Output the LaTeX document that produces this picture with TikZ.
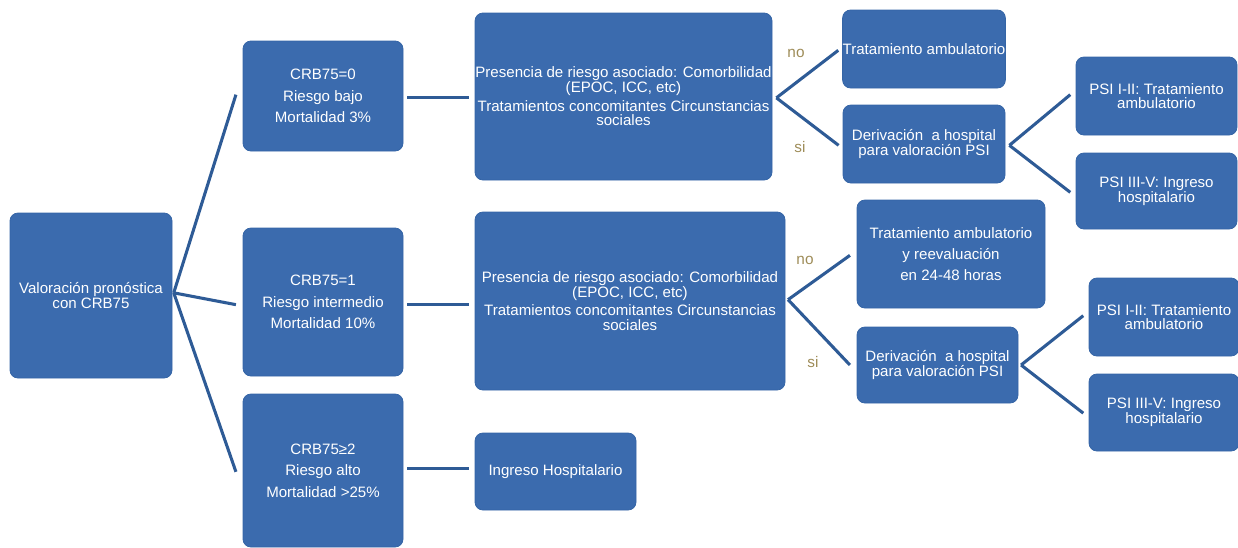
\documentclass[tikz,border=0pt]{standalone}
\usepackage{fontspec}
\setmainfont{Liberation Sans}
\definecolor{boxblue}{HTML}{3B6BAE}
\definecolor{boxedge}{HTML}{3565A6}
\definecolor{linkblue}{HTML}{2E5B96}
\definecolor{olive}{HTML}{9E8C58}
\begin{document}
\begin{tikzpicture}[x=0.75pt,y=-0.75pt,
  flowbox/.style={draw=boxedge,line width=0.6pt,fill=boxblue,rounded corners=6pt,
    text=white,align=center,inner sep=0pt,font=\fontsize{11.3}{11}\selectfont},
  widelines/.style={font=\fontsize{11.3}{16}\selectfont},
  link/.style={draw=linkblue,line width=2.3pt},
  answer/.style={text=olive,font=\fontsize{11.5}{12}\selectfont,inner sep=0pt}]
\useasboundingbox (0,0) rectangle (1238,547);
% nodes
\node[flowbox,minimum width=162*0.75pt,minimum height=165*0.75pt] (A) at (91,295.5)
  {Valoración pronóstica\\con CRB75};
\node[flowbox,widelines,minimum width=160*0.75pt,minimum height=110*0.75pt] (B1) at (323,96)
  {CRB75=0\\Riesgo bajo\\Mortalidad 3\%};
\node[flowbox,widelines,minimum width=160*0.75pt,minimum height=148*0.75pt] (B2) at (323,302)
  {CRB75=1\\Riesgo intermedio\\Mortalidad 10\%};
\node[flowbox,widelines,minimum width=160*0.75pt,minimum height=153*0.75pt] (B3) at (323,470.5)
  {CRB75≥2\\Riesgo alto\\Mortalidad >25\%};
\node[flowbox,minimum width=297*0.75pt,minimum height=167*0.75pt] (C1) at (623.5,96.5)
  {Presencia de riesgo asociado: Comorbilidad\\(EPOC, ICC, etc)\\[3pt]Tratamientos concomitantes Circunstancias\\sociales};
\node[flowbox,minimum width=310*0.75pt,minimum height=178*0.75pt] (C2) at (630,301)
  {Presencia de riesgo asociado: Comorbilidad\\(EPOC, ICC, etc)\\[3pt]Tratamientos concomitantes Circunstancias\\sociales};
\node[flowbox,minimum width=161*0.75pt,minimum height=77*0.75pt] (C3) at (555.5,471.5)
  {Ingreso Hospitalario};
\node[flowbox,minimum width=162*0.75pt,minimum height=78*0.75pt] (D1) at (924,49)
  {Tratamiento ambulatorio};
\node[flowbox,minimum width=162*0.75pt,minimum height=78*0.75pt] (D2) at (924,144)
  {Derivación \ a hospital\\para valoración PSI};
\node[flowbox,minimum width=161*0.75pt,minimum height=78*0.75pt] (E1) at (1156.5,96)
  {PSI I-II: Tratamiento\\ambulatorio};
\node[flowbox,minimum width=161*0.75pt,minimum height=76*0.75pt] (E2) at (1156.5,191)
  {PSI III-V: Ingreso\\hospitalario};
\node[flowbox,font=\fontsize{11.3}{15.5}\selectfont,minimum width=188*0.75pt,minimum height=108*0.75pt] (D3) at (951,254)
  {Tratamiento ambulatorio\\y reevaluación\\en 24-48 horas};
\node[flowbox,minimum width=161*0.75pt,minimum height=76*0.75pt] (D4) at (937.5,365)
  {Derivación \ a hospital\\para valoración PSI};
\node[flowbox,minimum width=150*0.75pt,minimum height=78*0.75pt] (E3) at (1164,317)
  {PSI I-II: Tratamiento\\ambulatorio};
\node[flowbox,minimum width=150*0.75pt,minimum height=77*0.75pt] (E4) at (1164,412.5)
  {PSI III-V: Ingreso\\hospitalario};
% answer labels
\node[answer] (no1) at (796,53) {no};
\node[answer] (si1) at (800,147) {si};
\node[answer] (no2) at (805,260) {no};
\node[answer] (si2) at (813,362) {si};
% branch points
\coordinate (a0) at ([xshift=1,yshift=2]A.east);
\coordinate (c1) at ([xshift=3,yshift=-1]C1.east);
\coordinate (c2) at ([xshift=2,yshift=1]C2.east);
\coordinate (d2) at ([xshift=3,yshift=-1]D2.east);
\coordinate (d4) at ([xshift=2]D4.east);
\coordinate (b1) at ([xshift=3,yshift=-1]B1.east);
\coordinate (b2) at ([xshift=3,yshift=-2]B2.east);
\coordinate (b3) at ([xshift=3,yshift=1.5]B3.east);
% connectors
\path[link] (a0) -- ([xshift=-5,yshift=1]B1.west);
\path[link] (a0) -- ([xshift=-5,yshift=-2]B2.west);
\path[link] (a0) -- ([xshift=-5,yshift=-1]B3.west);
\path[link] (b1) -- ([xshift=-4]b1 -| C1.west);
\path[link] (b2) -- ([xshift=-4]b2 -| C2.west);
\path[link] (b3) -- ([xshift=-4]b3 -| C3.west);
\path[link] (c1) -- ([xshift=-3,yshift=-1]D1.west);
\path[link] (c1) -- ([xshift=-3,yshift=-1]D2.west);
\path[link] (d2) -- ([xshift=-4,yshift=1]E1.west);
\path[link] (d2) -- ([xshift=-4,yshift=-1]E2.west);
\path[link] (c2) -- ([xshift=-5,yshift=-1]D3.west);
\path[link] (c2) -- ([xshift=-5]D4.west);
\path[link] (d4) -- ([xshift=-4,yshift=1]E3.west);
\path[link] (d4) -- ([xshift=-4,yshift=-0.5]E4.west);
\end{tikzpicture}
\end{document}
